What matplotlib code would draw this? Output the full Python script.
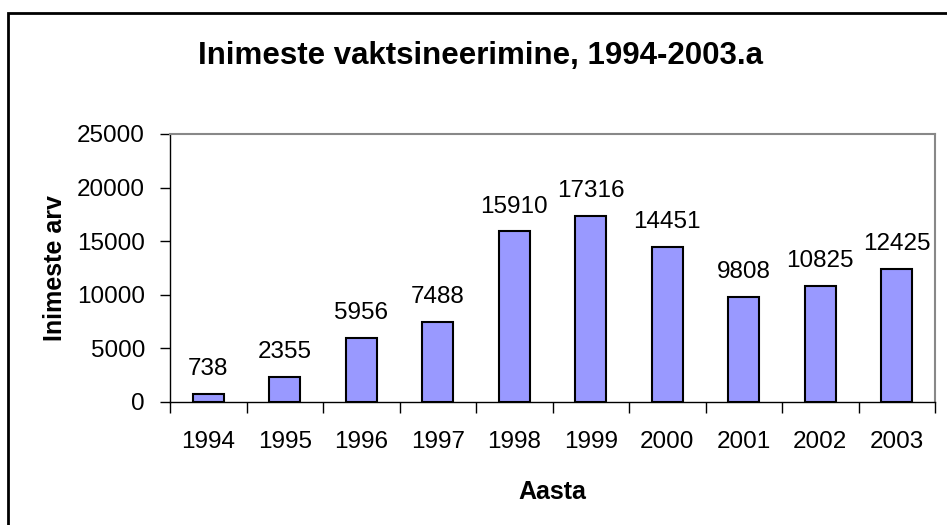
import matplotlib.pyplot as plt
from matplotlib.patches import Rectangle
import numpy as np

plt.rcParams['font.family'] = ['Liberation Sans', 'DejaVu Sans']

years = ['1994', '1995', '1996', '1997', '1998', '1999', '2000', '2001', '2002', '2003']
counts = [738, 2355, 5956, 7488, 15910, 17316, 14451, 9808, 10825, 12425]
yticks = [0, 5000, 10000, 15000, 20000, 25000]

W, H = 947, 525
fig = plt.figure(figsize=(9.47, 5.25), dpi=100)

# outer chart frame (cut at right/bottom like the source)
fig.patches.append(Rectangle((8 / W, -0.05), 1.2, 1 - 13 / H + 0.05, transform=fig.transFigure,
                             fill=False, edgecolor='black', linewidth=2))

ax = fig.add_axes([170 / W, 1 - 402 / H, (935 - 170) / W, (402 - 134) / H])
x = np.arange(len(years))
ax.bar(x, counts, width=0.4, color='#9999FF', edgecolor='black', linewidth=1.5, zorder=3)

for xi, v in zip(x, counts):
    ax.annotate(str(v), (xi, v), xytext=(0, 10), textcoords='offset points',
                ha='center', va='bottom', fontsize=17.5)

ax.set_xlim(-0.5, len(years) - 0.5)
ax.set_ylim(0, 25000)
ax.set_yticks(yticks)
ax.set_yticklabels([str(t) for t in yticks], fontsize=17.5)
ax.tick_params(axis='y', length=7, width=1, pad=11)

ax.set_xticks(x)
ax.set_xticklabels(years, fontsize=17.5)
ax.set_xticks(np.arange(-0.5, len(years), 1), minor=True)
ax.tick_params(axis='x', which='major', length=0, pad=21)
ax.tick_params(axis='x', which='minor', length=8, width=1)

for side in ['top', 'right']:
    ax.spines[side].set_color('#888888')
    ax.spines[side].set_linewidth(1.5)
for side in ['left', 'bottom']:
    ax.spines[side].set_color('black')
    ax.spines[side].set_linewidth(1)

ax.set_ylabel('Inimeste arv', fontsize=18, fontweight='bold', labelpad=7)
ax.set_xlabel('Aasta', fontsize=18, fontweight='bold', labelpad=19)

fig.text(480 / W, 1 - 56 / H, 'Inimeste vaktsineerimine, 1994-2003.a', ha='center', va='center',
         fontsize=22.5, fontweight='bold')

fig.savefig('out.png', dpi=100)
